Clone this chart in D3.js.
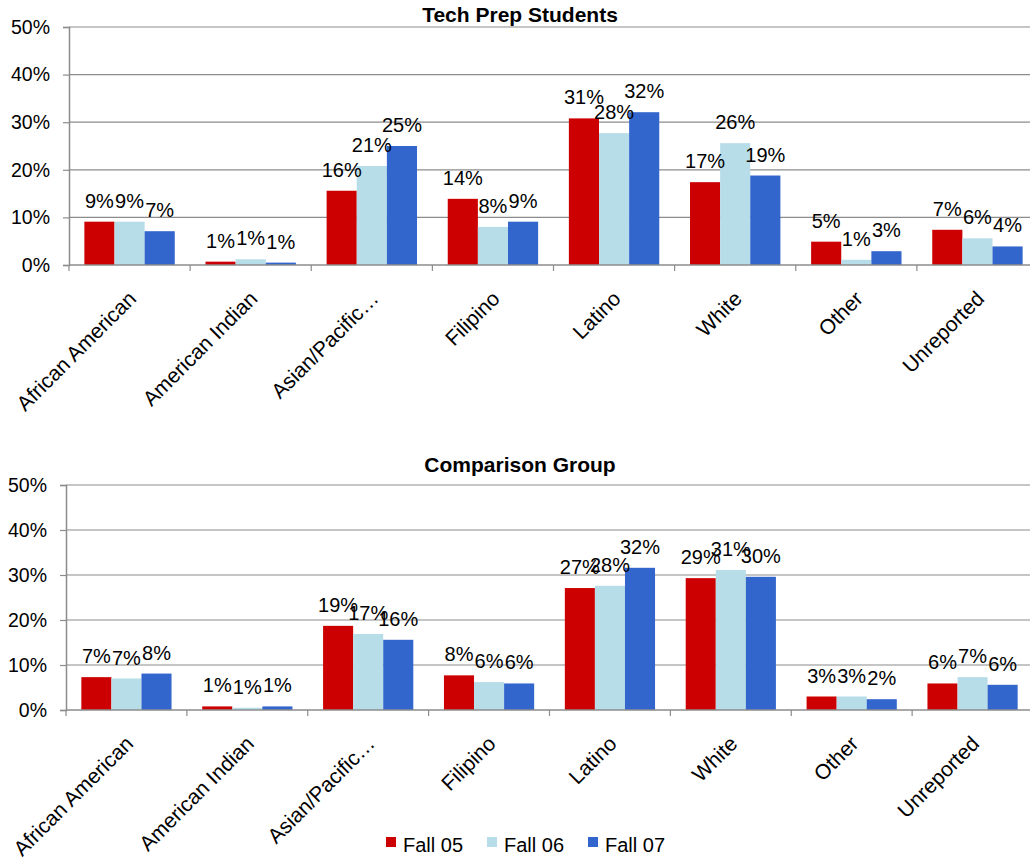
<!DOCTYPE html>
<html>
<head>
<meta charset="utf-8">
<script src="https://cdn.jsdelivr.net/npm/d3@7"></script>
<style>
  body { margin: 0; background: #ffffff; }
  svg { display: block; font-family: "Liberation Sans", Arial, sans-serif; }
</style>
</head>
<body>
<script>
// Categories and series
var categories = ["African American", "American Indian", "Asian/Pacific\u2026", "Filipino",
                  "Latino", "White", "Other", "Unreported"];
var seriesNames = ["Fall 05", "Fall 06", "Fall 07"];
var seriesColors = ["#CC0000", "#B7DDE8", "#3366CC"];
var yTicks = [0, 10, 20, 30, 40, 50];

// Tech Prep Students (percent)
var techFall05 = [9.1, 0.7, 15.6, 13.9, 30.8, 17.4, 4.9, 7.4];
var techFall06 = [9.1, 1.2, 20.8, 8.0, 27.7, 25.6, 1.1, 5.6];
var techFall07 = [7.1, 0.5, 25.0, 9.1, 32.1, 18.8, 2.9, 3.9];

// Comparison Group (percent)
var compFall05 = [7.3, 0.8, 18.7, 7.7, 27.1, 29.3, 3.0, 5.9];
var compFall06 = [7.0, 0.5, 16.9, 6.2, 27.6, 31.1, 3.0, 7.3];
var compFall07 = [8.1, 0.8, 15.6, 5.9, 31.6, 29.6, 2.4, 5.6];

var width = 1030, height = 860;

var svg = d3.select("body").append("svg")
    .attr("width", width)
    .attr("height", height);

// draw one panel of grouped bars
function drawPanel(title, seriesValues, box) {
    var g = svg.append("g");

    var x = d3.scaleBand()
        .domain(categories)
        .range([box.left, box.right]);

    var xInner = d3.scaleBand()
        .domain(seriesNames)
        .range([0, x.bandwidth()])
        .paddingOuter(0.51);

    var y = d3.scaleLinear()
        .domain([0, 50])
        .range([box.bottom, box.top]);

    // gridlines
    g.selectAll(".grid")
        .data(yTicks.filter(function (d) { return d > 0; }))
        .enter()
        .append("line")
        .attr("x1", box.left)
        .attr("x2", box.right)
        .attr("y1", function (d) { return y(d); })
        .attr("y2", function (d) { return y(d); })
        .attr("stroke", "#8c8c8c")
        .attr("stroke-width", 1.2);

    // y axis
    var yAxis = g.append("g")
        .attr("transform", "translate(" + box.left + ",0)")
        .call(d3.axisLeft(y).tickValues(yTicks).tickSize(6).tickPadding(13)
            .tickFormat(function (d) { return d + "%"; }));
    yAxis.select(".domain").attr("stroke", "#8c8c8c").attr("stroke-width", 1.5);
    yAxis.selectAll(".tick line").attr("stroke", "#8c8c8c").attr("stroke-width", 1.2);
    yAxis.selectAll(".tick text")
        .attr("fill", "#000")
        .style("font-size", "19.5px")
        .style("font-family", "'Liberation Sans', Arial, sans-serif");

    // bars
    var groups = g.selectAll(".cat")
        .data(categories)
        .enter()
        .append("g")
        .attr("transform", function (d) { return "translate(" + x(d) + ",0)"; });

    groups.each(function (cat, ci) {
        var cg = d3.select(this);
        var vals = seriesNames.map(function (s, si) {
            return { s: s, si: si, v: seriesValues[si][ci] };
        });
        cg.selectAll("rect")
            .data(vals)
            .enter()
            .append("rect")
            .attr("x", function (d) { return xInner(d.s); })
            .attr("width", xInner.bandwidth())
            .attr("y", function (d) { return y(d.v); })
            .attr("height", function (d) { return y(0) - y(d.v); })
            .attr("fill", function (d) { return seriesColors[d.si]; });

        cg.selectAll("text.val")
            .data(vals)
            .enter()
            .append("text")
            .attr("class", "val")
            .attr("x", function (d) { return xInner(d.s) + xInner.bandwidth() / 2; })
            .attr("y", function (d) { return y(d.v) - 14; })
            .attr("text-anchor", "middle")
            .style("font-size", "20px")
            .attr("fill", "#000")
            .text(function (d) { return Math.round(d.v) + "%"; });
    });

    // x axis
    var xAxis = g.append("g")
        .attr("transform", "translate(0," + box.bottom + ")");
    xAxis.append("line")
        .attr("x1", box.left)
        .attr("x2", box.right)
        .attr("stroke", "#8c8c8c")
        .attr("stroke-width", 1.5);
    xAxis.selectAll(".xtick")
        .data(categories)
        .enter()
        .append("line")
        .attr("x1", function (d) { return x(d); })
        .attr("x2", function (d) { return x(d); })
        .attr("y1", 0)
        .attr("y2", 6)
        .attr("stroke", "#8c8c8c")
        .attr("stroke-width", 1.2);
    xAxis.selectAll(".xlabel")
        .data(categories)
        .enter()
        .append("text")
        .attr("text-anchor", "end")
        .attr("transform", function (d) {
            return "translate(" + (x(d) + x.bandwidth() / 2 + 8) + "," + 35 + ") rotate(-45)";
        })
        .style("font-size", "21px")
        .attr("fill", "#000")
        .text(function (d) { return d; });

    // title
    g.append("text")
        .attr("x", 520)
        .attr("y", box.titleY)
        .attr("text-anchor", "middle")
        .style("font-size", "21px")
        .style("font-weight", "bold")
        .attr("fill", "#000")
        .text(title);
}

drawPanel("Tech Prep Students", [techFall05, techFall06, techFall07],
    { left: 69, right: 1038, top: 27, bottom: 265, titleY: 22 });

drawPanel("Comparison Group", [compFall05, compFall06, compFall07],
    { left: 66, right: 1033, top: 485, bottom: 710, titleY: 472 });

// legend
var legendX = [386, 487, 588];
var legend = svg.append("g");
seriesNames.forEach(function (s, i) {
    legend.append("rect")
        .attr("x", legendX[i])
        .attr("y", 837)
        .attr("width", 10)
        .attr("height", 10)
        .attr("fill", seriesColors[i]);
    legend.append("text")
        .attr("x", legendX[i] + 17)
        .attr("y", 852)
        .style("font-size", "20px")
        .attr("fill", "#000")
        .text(s);
});
</script>
</body>
</html>
